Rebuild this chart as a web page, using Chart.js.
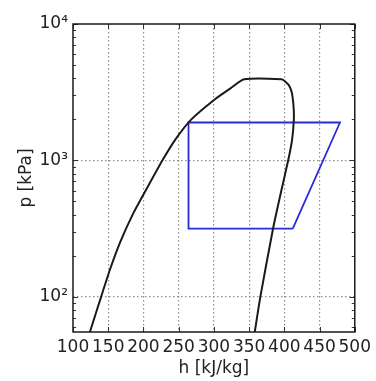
<!DOCTYPE html>
<html>
<head>
<meta charset="utf-8">
<script src="https://cdn.jsdelivr.net/npm/chart.js@4"></script>
<style>
  html, body { margin: 0; padding: 0; background: #fff; }
  #wrap { width: 376px; height: 381px; }
</style>
</head>
<body>
<div id="wrap"><canvas id="myChart" width="376" height="381"></canvas></div>
<script>
// saturation dome: liquid side, flat top, vapour side
var domeH = [124, 140, 152.5, 167, 184.5, 205.5, 227, 245, 268, 302, 324, 343,
             396, 402, 406.5, 410.5, 413, 413.5, 411, 405.5, 394.5, 384, 366, 358];
var domeP = [55, 100, 158, 251, 398, 631, 1000, 1413, 1995, 2818, 3388, 3926,
             3926, 3758, 3548, 3162, 2512, 1995, 1413, 1000, 562, 316, 100, 55];

// refrigeration cycle
var cycleH = [412, 479, 264, 264, 412];
var cycleP = [315, 1894, 1894, 315, 315];

var xTicks = [100, 150, 200, 250, 300, 350, 400, 450, 500];
var yTicks = [100, 1000, 10000];
var yTickLabels = ["10\u00B2", "10\u00B3", "10\u2074"];

var
  black = "#1a1a1a",
  blue = "#2a2ad8",
  gridGrey = "#8f8f8f",
  textCol = "#222",
  font = "'DejaVu Sans', sans-serif";

function pts(hs, ps) {
  return hs.map(function(h, i) { return {x: h, y: ps[i]}; });
}

// axes box + inward ticks, matplotlib style
var frame = {
  id: "frame",
  afterDatasetsDraw: function(chart) {
    var c = chart.ctx, a = chart.chartArea, sx = chart.scales.x, sy = chart.scales.y;
    c.save();
    c.strokeStyle = "#333";
    c.lineWidth = 1;
    xTicks.forEach(function(v) {
      var px = Math.round(sx.getPixelForValue(v)) + 0.5;
      c.beginPath();
      c.moveTo(px, a.bottom); c.lineTo(px, a.bottom - 5);
      c.moveTo(px, a.top); c.lineTo(px, a.top + 5);
      c.stroke();
    });
    for (var d = 10; d <= 10000; d *= 10) {
      for (var m = 1; m <= 9; m++) {
        var v = d * m;
        if (v < 55 || v > 10000) continue;
        var py = Math.round(sy.getPixelForValue(v)) + 0.5;
        var len = m === 1 ? 5 : 3;
        c.beginPath();
        c.moveTo(a.left, py); c.lineTo(a.left + len, py);
        c.moveTo(a.right, py); c.lineTo(a.right - len, py);
        c.stroke();
      }
    }
    c.strokeStyle = black;
    c.lineWidth = 1.5;
    c.strokeRect(a.left, a.top, a.right - a.left, a.bottom - a.top);
    c.restore();
  }
};

var ctx = document.getElementById("myChart").getContext("2d");
var myChart = new Chart(ctx, {
  type: "scatter",
  data: {
    datasets: [{
      data: pts(domeH, domeP),
      showLine: true,
      borderColor: black,
      borderWidth: 2,
      pointRadius: 0,
      tension: 0.2
    }, {
      data: pts(cycleH, cycleP),
      showLine: true,
      borderColor: blue,
      borderWidth: 1.8,
      pointRadius: 0,
      tension: 0
    }]
  },
  options: {
    responsive: false,
    animation: false,
    layout: { padding: { left: 0, right: 17, top: 24, bottom: 0 } },
    plugins: { legend: { display: false }, tooltip: { enabled: false } },
    scales: {
      x: {
        type: "linear",
        min: 100,
        max: 500,
        afterBuildTicks: function(s) { s.ticks = xTicks.map(function(v) { return {value: v}; }); },
        afterFit: function(s) { s.height = 49; },
        border: { display: false, dash: [1.5, 2.5] },
        grid: {
          drawTicks: false,
          color: function(c) { return (c.tick && (c.tick.value === 100 || c.tick.value === 500)) ? "rgba(0,0,0,0)" : gridGrey; },
          lineWidth: 1.2
        },
        ticks: {
          autoSkip: false,
          maxRotation: 0,
          padding: 5,
          color: textCol,
          font: { family: font, size: 17 }
        },
        title: {
          display: true,
          text: "h [kJ/kg]",
          color: textCol,
          padding: { top: 0, bottom: 2 },
          font: { family: font, size: 17 }
        }
      },
      y: {
        type: "logarithmic",
        min: 55,
        max: 10000,
        afterBuildTicks: function(s) { s.ticks = yTicks.map(function(v) { return {value: v}; }); },
        afterFit: function(s) { s.width = 73; },
        border: { display: false, dash: [1.5, 2.5] },
        grid: {
          drawTicks: false,
          color: function(c) { return (c.tick && c.tick.value === 10000) ? "rgba(0,0,0,0)" : gridGrey; },
          lineWidth: 1.2
        },
        ticks: {
          padding: 5,
          color: textCol,
          font: { family: font, size: 17 },
          callback: function(v) {
            var i = yTicks.indexOf(v);
            return i >= 0 ? yTickLabels[i] : "";
          }
        },
        title: {
          display: true,
          text: "p [kPa]",
          color: textCol,
          padding: { top: 16, bottom: 0 },
          font: { family: font, size: 17 }
        }
      }
    }
  },
  plugins: [frame]
});
</script>
</body>
</html>
